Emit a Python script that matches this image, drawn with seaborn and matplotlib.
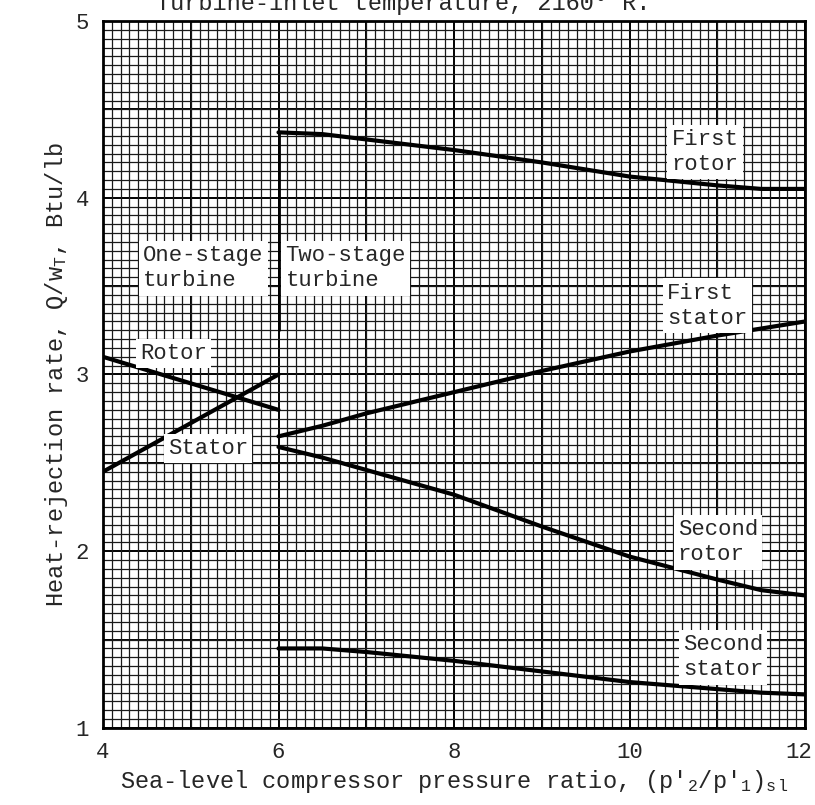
import numpy as np
import pandas as pd
import seaborn as sns
import matplotlib.pyplot as plt
import matplotlib.transforms as mtransforms
from matplotlib.ticker import MultipleLocator

# one-stage turbine (pressure ratio 4 to 6)
one_x = [4, 6]
one_rotor = [3.10, 2.80]
one_stator = [2.45, 3.00]

# two-stage turbine (pressure ratio 6 to 12)
two_x = [6, 6.5, 7, 8, 9, 10, 11, 11.5, 12]
first_rotor = [4.37, 4.36, 4.33, 4.27, 4.20, 4.12, 4.07, 4.05, 4.05]
first_stator = [2.65, 2.71, 2.78, 2.90, 3.02, 3.13, 3.22, 3.26, 3.30]
second_rotor = [2.59, 2.53, 2.46, 2.32, 2.14, 1.97, 1.84, 1.78, 1.75]
second_stator = [1.45, 1.45, 1.43, 1.38, 1.32, 1.26, 1.22, 1.20, 1.19]

# divider between one- and two-stage regions
divider_x = [6, 6]
divider_y = [3.25, 4.37]

x_ticks = [4, 6, 8, 10, 12]
y_ticks = [1, 2, 3, 4, 5]

sns.set_style("white")
plt.rcParams['font.family'] = ['Liberation Mono', 'DejaVu Sans Mono']
plt.rcParams['mathtext.fontset'] = 'custom'
plt.rcParams['mathtext.rm'] = 'Liberation Mono'
plt.rcParams['mathtext.it'] = 'Liberation Mono'

fig = plt.figure(figsize=(8.15, 8.05), dpi=100)
ax = fig.add_axes([103 / 815, 77 / 805, 702 / 815, 707 / 805])

# graph paper
ax.xaxis.set_minor_locator(MultipleLocator(0.1))
ax.yaxis.set_minor_locator(MultipleLocator(0.05))
ax.grid(which='minor', color='#1a1a1a', lw=0.9)
ax.grid(which='major', visible=False)
ax.set_axisbelow(True)
# heavier lines every 1 (x) and 0.5 (y)
for v in np.arange(4, 12.01, 1):
    ax.axvline(v, color='black', lw=1.4, zorder=0.5)
for v in np.arange(1, 5.01, 0.5):
    ax.axhline(v, color='black', lw=1.4, zorder=0.5)

frames = {
    'one': (one_x, [one_rotor, one_stator]),
    'two': (two_x, [first_rotor, first_stator, second_rotor, second_stator]),
}
for key, (xs, series) in frames.items():
    for ys in series:
        sns.lineplot(x=xs, y=ys, ax=ax, color='black', lw=3.0, sort=False)
ax.plot(divider_x, divider_y, color='black', lw=2.0)

ax.set_xlim(4, 12)
ax.set_ylim(1, 5)
ax.set_xticks(x_ticks)
ax.set_yticks(y_ticks)
ax.set_xticklabels([str(t) for t in x_ticks], fontsize=16)
ax.set_yticklabels([str(t) for t in y_ticks], fontsize=16)
ax.tick_params(length=0, pad=10)
# nudge the last x label so it stays inside the figure
last = ax.get_xticklabels()[-1]
last.set_transform(last.get_transform() +
                   mtransforms.ScaledTranslation(-6 / 100, 0, fig.dpi_scale_trans))

for s in ax.spines.values():
    s.set_linewidth(2)
    s.set_color('black')

ax.set_xlabel("Sea-level compressor pressure ratio, (p$'_2$/p$'_1$)$_{s\\,l}$",
              fontsize=17, labelpad=4)
ax.set_ylabel("Heat-rejection rate, Q/w$_T$, Btu/lb", fontsize=17, labelpad=4)

box = dict(facecolor='white', edgecolor='none', pad=3)
labels = [
    (4.46, 3.60, "One-stage\nturbine"),
    (6.08, 3.60, "Two-stage\nturbine"),
    (4.42, 3.12, "Rotor"),
    (4.74, 2.58, "Stator"),
    (10.48, 4.26, "First\nrotor"),
    (10.43, 3.39, "First\nstator"),
    (10.55, 2.05, "Second\nrotor"),
    (10.61, 1.40, "Second\nstator"),
]
for lx, ly, txt in labels:
    ax.text(lx, ly, txt, fontsize=16, ha='left', va='center', bbox=box,
            linespacing=1.25, zorder=5)

fig.text(0.495, 1 - 10 / 805, "Turbine-inlet temperature, 2160\u00b0 R.",
         fontsize=17, ha='center', va='baseline')

fig.savefig("out.png", dpi=100)
